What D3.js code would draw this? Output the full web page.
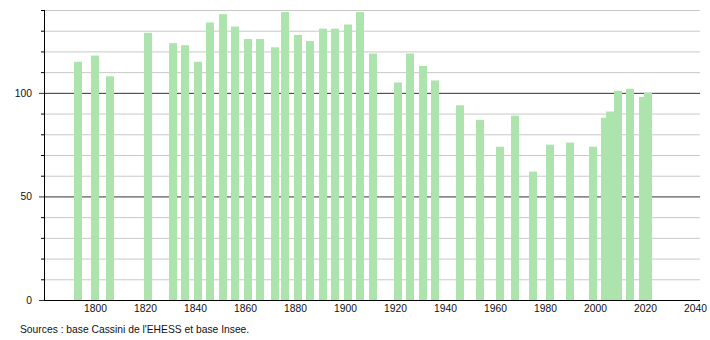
<!DOCTYPE html>
<html>
<head>
<meta charset="utf-8">
<script src="https://cdn.jsdelivr.net/npm/d3@7"></script>
<style>
  body { margin: 0; background: #fff; }
  svg { display: block; font-family: "Liberation Sans", Arial, sans-serif; }
</style>
</head>
<body>
<div id="chart"></div>
<script>
// population par année de recensement
const years = [1793, 1800, 1806, 1821, 1831, 1836, 1841, 1846, 1851, 1856,
  1861, 1866, 1872, 1876, 1881, 1886, 1891, 1896, 1901, 1906,
  1911, 1921, 1926, 1931, 1936, 1946, 1954, 1962, 1968, 1975,
  1982, 1990, 1999, 2004, 2006, 2009, 2014, 2019, 2021];
const population = [115, 118, 108, 129, 124, 123, 115, 134, 138, 132,
  126, 126, 122, 139, 128, 125, 131, 131, 133, 139,
  119, 105, 119, 113, 106, 94, 87, 74, 89, 62,
  75, 76, 74, 88, 91, 101, 102, 98, 100];
const xTicks = [1800, 1820, 1840, 1860, 1880, 1900, 1920, 1940, 1960, 1980, 2000, 2020, 2040];
const yTicks = [0, 50, 100];
const source = "Sources : base Cassini de l'EHESS et base Insee.";

const width = 710, height = 340;
const m = {left: 44, right: 700, top: 10, bottom: 300};

const svg = d3.select("#chart").append("svg")
  .attr("width", width)
  .attr("height", height);

const x = d3.scaleLinear().domain([1780, 2042]).range([45, 700]);
const y = d3.scaleLinear().domain([0, 140]).range([m.bottom, m.top]);

const minor = d3.range(10, 141, 10).filter(v => v % 50 !== 0);

// grille fine
svg.append("g")
  .attr("transform", `translate(${m.left},0)`)
  .call(d3.axisLeft(y).tickValues(minor).tickSize(-(m.right - m.left)).tickFormat(""))
  .call(g => g.select(".domain").remove())
  .call(g => g.selectAll("line").attr("stroke", "#c8c8c8"));

// petites graduations à gauche
svg.append("g")
  .attr("transform", `translate(${m.left},0)`)
  .call(d3.axisLeft(y).tickValues(minor).tickSize(3).tickFormat(""))
  .call(g => g.select(".domain").remove())
  .call(g => g.selectAll("line").attr("stroke", "#000"));

// grille principale 50 / 100 + étiquettes
svg.append("g")
  .attr("transform", `translate(${m.right},0)`)
  .call(d3.axisLeft(y).tickValues(yTicks).tickSize(m.right - m.left + 5).tickPadding(7))
  .call(g => g.select(".domain").remove())
  .call(g => g.selectAll("line").attr("stroke", "#333"))
  .call(g => g.selectAll("text").attr("font-size", "10.3px").attr("fill", "#111")
    .attr("font-family", "'Liberation Sans', Arial, sans-serif"));

// barres
svg.append("g")
  .selectAll("rect")
  .data(years.map((d, i) => ({year: d, value: population[i]})))
  .join("rect")
  .attr("x", d => Math.round(x(d.year)) - 4)
  .attr("y", d => y(d.value))
  .attr("width", 8)
  .attr("height", d => y(0) - y(d.value))
  .attr("fill", "#ade3ad");

// axe vertical
svg.append("line")
  .attr("x1", m.left + 0.5).attr("x2", m.left + 0.5)
  .attr("y1", m.top).attr("y2", m.bottom)
  .attr("stroke", "#000");

// axe horizontal
svg.append("g")
  .attr("transform", `translate(0,${m.bottom})`)
  .call(d3.axisBottom(x).tickValues(xTicks).tickSize(0).tickPadding(5).tickFormat(d3.format("d")))
  .call(g => g.select(".domain").attr("d", `M${m.left},0.5H${m.right}`).attr("stroke", "#000"))
  .call(g => g.selectAll("text").attr("font-size", "10.3px").attr("fill", "#111")
    .attr("font-family", "'Liberation Sans', Arial, sans-serif"));

svg.append("text")
  .attr("x", 20)
  .attr("y", 333)
  .attr("font-size", "10.3px")
  .attr("fill", "#111")
  .text(source);
</script>
</body>
</html>
